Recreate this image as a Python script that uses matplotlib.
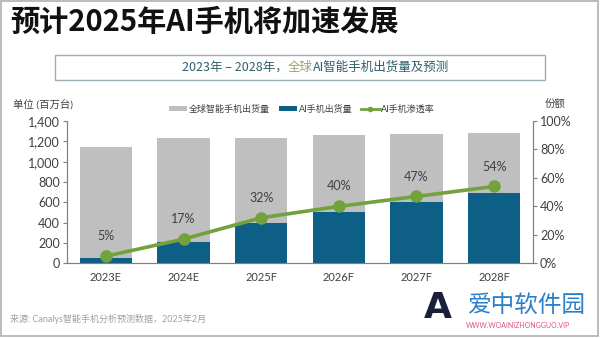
import matplotlib
matplotlib.use("Agg")
import matplotlib.pyplot as plt
from matplotlib.patches import Rectangle, Patch
from matplotlib.lines import Line2D

plt.rcParams['font.family'] = ['Lato', 'Noto Sans CJK SC', 'DejaVu Sans']

categories = ["2023E", "2024E", "2025F", "2026F", "2027F", "2028F"]
total_shipments = [1140, 1230, 1236, 1263, 1273, 1285]
ai_shipments = [57, 213, 400, 507, 600, 694]
ai_penetration = [0.05, 0.17, 0.32, 0.40, 0.47, 0.54]
pen_labels = ["5%", "17%", "32%", "40%", "47%", "54%"]
left_ticks = [0, 200, 400, 600, 800, 1000, 1200, 1400]
right_ticks = [0, 0.2, 0.4, 0.6, 0.8, 1.0]

GRAY = "#bfbfbf"
BLUE = "#0e5f86"
GREEN = "#72a23c"
TXT = "#404040"

fig = plt.figure(figsize=(6, 3.38), dpi=100)
W, H = 600, 338

def fx(px):
    return px / W

def fy(py):
    return 1 - py / H

# slide border
fig.add_artist(Rectangle((fx(1), fy(336)), fx(597), 335 / H, transform=fig.transFigure,
                         fill=False, edgecolor="#b0b0b0", linewidth=1.2))

ax = fig.add_axes([fx(67), fy(263.3), fx(533 - 67), (263.3 - 121) / H])
x = list(range(len(categories)))
ax.bar(x, total_shipments, width=0.67, color=GRAY, zorder=1)
ax.bar(x, ai_shipments, width=0.67, color=BLUE, zorder=2)
ax.set_xlim(-0.5, len(categories) - 0.5)
ax.set_ylim(0, 1400)
ax.set_yticks(left_ticks)
ax.set_yticklabels([f"{v:,}" for v in left_ticks])
ax.set_xticks(x)
ax.set_xticklabels(categories)
ax.tick_params(axis='y', labelsize=9, colors=TXT, length=3, color="#808080", pad=2)
ax.tick_params(axis='x', labelsize=8, colors=TXT, length=0, pad=6)
ax.spines["top"].set_visible(False)
for s in ["left", "bottom", "right"]:
    ax.spines[s].set_color("#808080")
    ax.spines[s].set_linewidth(0.8)

ax2 = ax.twinx()
ax2.plot(x, ai_penetration, color=GREEN, linewidth=2.6, marker='o', markersize=8,
         markerfacecolor=GREEN, markeredgecolor=GREEN, zorder=5)
ax2.set_ylim(0, 1.0)
ax2.set_yticks(right_ticks)
ax2.set_yticklabels([f"{int(round(v*100))}%" for v in right_ticks])
ax2.tick_params(axis='y', labelsize=9, colors=TXT, length=3, color="#808080", pad=2)
ax2.spines["top"].set_visible(False)
for s in ["left", "bottom", "right"]:
    ax2.spines[s].set_color("#808080")
    ax2.spines[s].set_linewidth(0.8)
for xi, v, lab in zip(x, ai_penetration, pen_labels):
    ax2.annotate(lab, (xi, v), xytext=(0, 10), textcoords="offset points",
                 ha="center", va="bottom", fontsize=9, color=TXT)

# title
fig.text(fx(10), fy(22), "预计2025年AI手机将加速发展", fontsize=21, fontweight="bold",
         color="#111111", ha="left", va="center",
         family=['Noto Sans CJK SC', 'DejaVu Sans'])

# subtitle box
fig.add_artist(Rectangle((fx(55), fy(80)), fx(490), 25 / H, transform=fig.transFigure,
                         fill=False, edgecolor="#9ab0b5", linewidth=1.0))
sub_parts = [("2023年 – 2028年，", "#2e5f6e"), ("全球", "#9aa36a"), ("AI智能手机出货量及预测", "#2e5f6e")]
t = fig.text(fx(182), fy(67.5), sub_parts[0][0], fontsize=9, color=sub_parts[0][1], ha="left", va="center",
             family=['Noto Sans CJK SC', 'DejaVu Sans'])
fig.canvas.draw()
r = fig.canvas.get_renderer()
cur = t
for txt, col in sub_parts[1:]:
    bb = cur.get_window_extent(r)
    cur = fig.text(bb.x1 / fig.dpi / 6, fy(67.5), txt, fontsize=9, color=col, ha="left", va="center",
                   family=['Noto Sans CJK SC', 'DejaVu Sans'])
    fig.canvas.draw()

# axis unit labels
fig.text(fx(13), fy(104), "单位 (百万台)", fontsize=7.5, color=TXT, ha="left", va="center")
fig.text(fx(545), fy(104), "份额", fontsize=7.5, color=TXT, ha="left", va="center")

# legend
handles = [Patch(facecolor=GRAY, edgecolor="none"),
           Patch(facecolor=BLUE, edgecolor="none"),
           Line2D([0], [0], color=GREEN, linewidth=2, marker='o', markersize=3)]
labels = ["全球智能手机出货量", "AI手机出货量", "AI手机渗透率"]
fig.legend(handles, labels, loc="center", bbox_to_anchor=(fx(302), fy(109)), ncol=3,
           frameon=False, fontsize=6.5, handlelength=2.0, handleheight=0.6,
           handletextpad=0.2, columnspacing=1.0, labelcolor=TXT)

# source
fig.text(fx(10), fy(319), "来源: Canalys智能手机分析预测数据，2025年2月", fontsize=6.5,
         color="#a0a0a0", ha="left", va="center")

# watermark
fig.text(fx(424), fy(308), "A", fontsize=26, fontweight="bold", color="#1a1f3a",
         ha="left", va="center", family=['DejaVu Sans'])
fig.text(fx(468), fy(305), "爱中软件园", fontsize=17, color="#2b7fc8", ha="left", va="center",
         family=['Noto Sans CJK SC'])
fig.text(fx(466), fy(326), "WWW.WOAINIZHONGGUO.VIP", fontsize=5, color="#e0508a",
         ha="left", va="center")

fig.savefig("out.png", dpi=100)
